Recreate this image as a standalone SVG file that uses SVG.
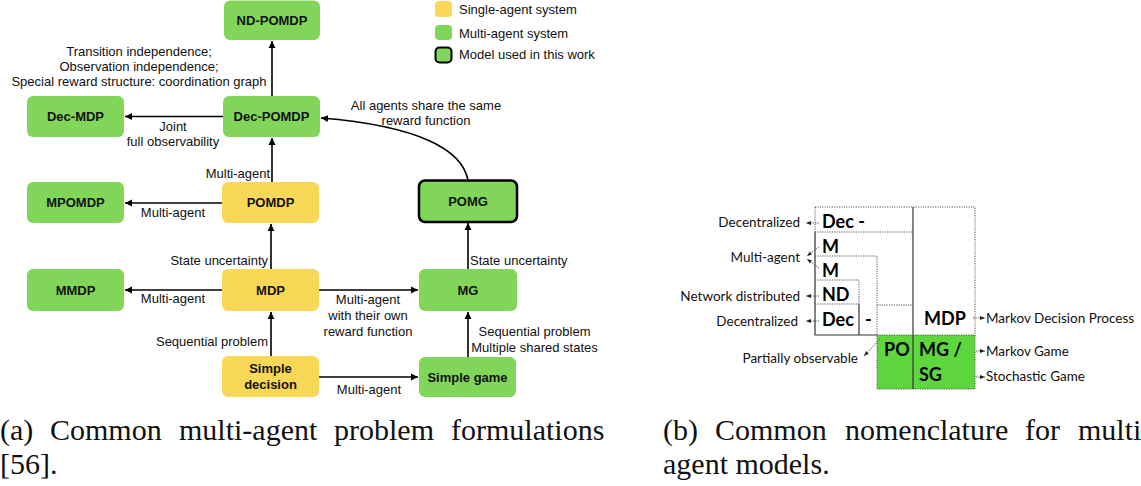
<svg xmlns="http://www.w3.org/2000/svg" width="1141" height="486" viewBox="0 0 1141 486">
<defs>
<marker id="ah" markerWidth="8" markerHeight="8" refX="7" refY="4" orient="auto" markerUnits="userSpaceOnUse">
<path d="M0,0.5 L7,4 L0,7.5 z" fill="#000"/>
</marker>
<marker id="sh" markerWidth="6" markerHeight="6" refX="5" refY="3" orient="auto" markerUnits="userSpaceOnUse">
<path d="M0,1 L5,3 L0,5 z" fill="#222"/>
</marker>
<style>
.y{fill:#F8D856;}
.g{fill:#81D65A;}
.nt{font-family:"Liberation Sans",Arial,sans-serif;font-size:13px;font-weight:bold;fill:#111;text-anchor:middle;}
.lb{font-family:"Liberation Sans",Arial,sans-serif;font-size:13px;fill:#111;}
.c{text-anchor:middle;}
.e{text-anchor:end;}
.ed{stroke:#000;stroke-width:1.6;fill:none;marker-end:url(#ah);}
.dot{stroke:#555;stroke-width:1;stroke-dasharray:1.2 1.2;fill:none;}
.sol{stroke:#333;stroke-width:1.2;fill:none;}
.bt{font-family:Lato,"Open Sans",sans-serif;font-size:18px;font-weight:bold;fill:#000;}
.rt{font-family:Lato,"Open Sans",sans-serif;font-size:13.5px;fill:#111;}
.sa{stroke:#444;stroke-width:0.8;stroke-dasharray:1.5 1;fill:none;marker-end:url(#sh);}
.cap{font-family:"Liberation Serif","DejaVu Serif",serif;font-size:30px;fill:#111;}
</style>
</defs>
<rect width="1141" height="486" fill="#fff"/>

<!-- legend -->
<g id="legend">
<rect x="435" y="1" width="17" height="16" rx="4" class="y"/>
<rect x="435" y="25" width="17" height="15" rx="4" class="g"/>
<rect x="435.5" y="47.5" width="16" height="15" rx="4" class="g" stroke="#000" stroke-width="2"/>
<text x="459" y="13.5" class="lb">Single-agent system</text>
<text x="459" y="37.5" class="lb">Multi-agent system</text>
<text x="459" y="59" class="lb">Model used in this work</text>
</g>

<!-- left diagram nodes -->
<g id="nd-pomdp"><rect x="224" y="0.5" width="96" height="39.5" rx="6" class="g"/><text x="272" y="24.5" class="nt">ND-POMDP</text></g>
<g id="dec-mdp"><rect x="27" y="96" width="97" height="41" rx="6" class="g"/><text x="75.5" y="121" class="nt">Dec-MDP</text></g>
<g id="dec-pomdp"><rect x="223" y="96" width="97" height="41" rx="6" class="g"/><text x="271.5" y="121" class="nt">Dec-POMDP</text></g>
<g id="mpomdp"><rect x="27" y="182" width="97" height="41" rx="6" class="g"/><text x="75.5" y="207" class="nt">MPOMDP</text></g>
<g id="pomdp"><rect x="222" y="182" width="97" height="41" rx="6" class="y"/><text x="270.5" y="207" class="nt">POMDP</text></g>
<g id="pomg"><rect x="419" y="180.5" width="98" height="41.5" rx="6" class="g" stroke="#000" stroke-width="2.5"/><text x="468" y="206" class="nt">POMG</text></g>
<g id="mmdp"><rect x="27" y="269" width="97" height="42" rx="6" class="g"/><text x="75.5" y="294.5" class="nt">MMDP</text></g>
<g id="mdp"><rect x="222" y="269" width="97" height="42" rx="6" class="y"/><text x="270.5" y="294.5" class="nt">MDP</text></g>
<g id="mg"><rect x="419" y="269" width="98" height="42" rx="6" class="g"/><text x="468" y="294.5" class="nt">MG</text></g>
<g id="simple-decision"><rect x="222" y="356" width="97" height="41" rx="6" class="y"/><text x="270.5" y="373" class="nt">Simple</text><text x="270.5" y="389" class="nt">decision</text></g>
<g id="simple-game"><rect x="419" y="357" width="97" height="40" rx="6" class="g"/><text x="467.5" y="381.5" class="nt">Simple game</text></g>

<!-- connectors -->
<g id="connectors">
<path d="M272,96 L272,41" class="ed"/>
<path d="M223,116.5 L125,116.5" class="ed"/>
<path d="M272,182 L272,138" class="ed"/>
<path d="M222,203 L125,203" class="ed"/>
<path d="M271,269 L271,224" class="ed"/>
<path d="M222,290 L125,290" class="ed"/>
<path d="M319,290 L418,290" class="ed"/>
<path d="M468,269 L468,223" class="ed"/>
<path d="M271,356 L271,312" class="ed"/>
<path d="M468,357 L468,312" class="ed"/>
<path d="M319,377 L418,377" class="ed"/>
<path d="M468,180 C462,150 420,126 321,118" class="ed"/>
</g>

<!-- edge labels -->
<g id="edge-labels" class="lb">
<text x="139" y="55.5" class="c">Transition independence;</text>
<text x="139" y="70.5" class="c">Observation independence;</text>
<text x="139" y="86" class="c">Special reward structure: coordination graph</text>
<text x="173" y="130.5" class="c">Joint</text>
<text x="173" y="145.5" class="c">full observability</text>
<text x="426" y="109.5" class="c">All agents share the same</text>
<text x="426" y="124.5" class="c">reward function</text>
<text x="270" y="177.5" class="e">Multi-agent</text>
<text x="173" y="216.5" class="c">Multi-agent</text>
<text x="268" y="264.5" class="e">State uncertainty</text>
<text x="470" y="264.5">State uncertainty</text>
<text x="173" y="302.5" class="c">Multi-agent</text>
<text x="368" y="303.5" class="c">Multi-agent</text>
<text x="368" y="319.5" class="c">with their own</text>
<text x="368" y="336" class="c">reward function</text>
<text x="268" y="345.5" class="e">Sequential problem</text>
<text x="534.5" y="336" class="c">Sequential problem</text>
<text x="534.5" y="351.5" class="c">Multiple shared states</text>
<text x="369" y="393.5" class="c">Multi-agent</text>
</g>

<!-- right diagram -->
<g id="nomenclature">
<rect x="877" y="335" width="98" height="54" fill="#5ED63E"/>
<path d="M815,207 H975 V389 H877 V335" class="dot"/>
<path d="M815,207 V232" class="dot"/>
<path d="M815,232 V335 H877" class="sol"/>
<path d="M913,207 V389" class="sol"/>
<path d="M815,232 H913" class="dot"/>
<path d="M815,256 H877 V335" class="dot"/>
<path d="M815,280 H859 V304" class="dot"/>
<path d="M859,304 V335" class="sol"/>
<path d="M815,304 H859" class="dot"/>
<path d="M877,305 H913" class="dot"/>
<path d="M877,335 H975" class="dot"/>
<text x="822" y="228" class="bt">Dec -</text>
<text x="822" y="253" class="bt">M</text>
<text x="822" y="277" class="bt">M</text>
<text x="822" y="301" class="bt">ND</text>
<text x="822" y="326" class="bt">Dec</text>
<text x="865" y="326" class="bt">-</text>
<text x="924" y="325" class="bt">MDP</text>
<text x="884" y="356" class="bt">PO</text>
<text x="919" y="356" class="bt">MG /</text>
<text x="919" y="381" class="bt">SG</text>
<text x="800" y="227" class="rt" text-anchor="end">Decentralized</text>
<text x="800" y="262" class="rt" text-anchor="end">Multi-agent</text>
<text x="800" y="301" class="rt" text-anchor="end">Network distributed</text>
<text x="798" y="326" class="rt" text-anchor="end">Decentralized</text>
<text x="858" y="363" class="rt" text-anchor="end">Partially observable</text>
<text x="986" y="323" class="rt">Markov Decision Process</text>
<text x="986" y="356" class="rt">Markov Game</text>
<text x="986" y="381" class="rt">Stochastic Game</text>
<path d="M819,223 L806,223" class="sa"/>
<path d="M819,247 L807,256" class="sa"/>
<path d="M819,268 L807,259" class="sa"/>
<path d="M819,296 L806,296" class="sa"/>
<path d="M819,321 L806,321" class="sa"/>
<path d="M880,339 L864,356" class="sa"/>
<path d="M973,318 L985,318" class="sa"/>
<path d="M976,351 L985,351" class="sa"/>
<path d="M976,377 L985,377" class="sa"/>
</g>

<!-- captions -->
<g id="captions" class="cap">
<text y="440"><tspan x="0">(a)</tspan><tspan x="50">Common</tspan><tspan x="179">multi-agent</tspan><tspan x="334">problem</tspan><tspan x="451">formulations</tspan></text>
<text x="0" y="474">[56].</text>
<text y="440"><tspan x="663">(b)</tspan><tspan x="715">Common</tspan><tspan x="845">nomenclature</tspan><tspan x="1025">for</tspan><tspan x="1078">multi</tspan></text>
<text x="663" y="474">agent models.</text>
</g>
</svg>
